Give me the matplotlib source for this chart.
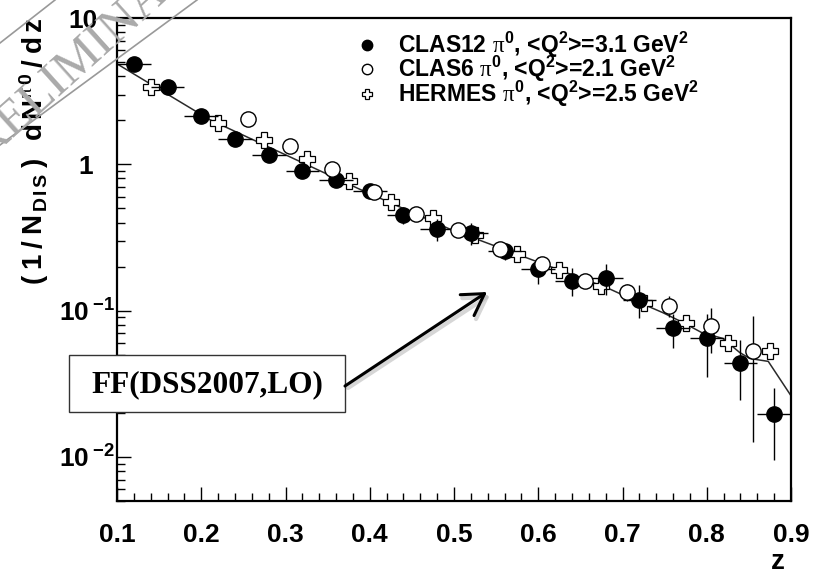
import matplotlib
matplotlib.use('Agg')
import matplotlib.pyplot as plt
from matplotlib.lines import Line2D
from matplotlib.patches import Rectangle, FancyArrowPatch
from matplotlib.ticker import FixedLocator, MultipleLocator, LogLocator, NullFormatter

plt.rcParams['font.family'] = ['Liberation Sans', 'DejaVu Sans']
plt.rcParams['mathtext.fontset'] = 'custom'
plt.rcParams['mathtext.rm'] = 'Liberation Sans:bold'
plt.rcParams['mathtext.bf'] = 'Liberation Sans:bold'
plt.rcParams['mathtext.it'] = 'Liberation Serif'
plt.rcParams['mathtext.default'] = 'rm'

# ---------------- data ----------------
clas12_z = [0.12, 0.16, 0.20, 0.24, 0.28, 0.32, 0.36, 0.40, 0.44, 0.48,
            0.52, 0.56, 0.60, 0.64, 0.68, 0.72, 0.76, 0.80, 0.84, 0.88]
clas12_val = [4.86, 3.40, 2.15, 1.50, 1.15, 0.90, 0.78, 0.655, 0.45, 0.36,
              0.34, 0.256, 0.193, 0.160, 0.168, 0.119, 0.0755, 0.0650, 0.0436, 0.0196]
clas12_err = [0.30, 0.20, 0.15, 0.10, 0.08, 0.07, 0.07, 0.07, 0.06, 0.06,
              0.06, 0.035, 0.04, 0.035, 0.04, 0.03, 0.02, 0.03, 0.019, 0.010]
clas12_zerr = [0.02] * 20

clas6_z = [0.255, 0.305, 0.355, 0.405, 0.455, 0.505, 0.555, 0.605, 0.655,
           0.705, 0.755, 0.805, 0.855]
clas6_val = [2.05, 1.33, 0.925, 0.645, 0.457, 0.356, 0.264, 0.209, 0.160,
             0.135, 0.108, 0.078, 0.0526]
clas6_err = [0.06, 0.04, 0.03, 0.02, 0.015, 0.012, 0.01, 0.01, 0.01,
             0.018, 0.018, 0.027, 0.04]

hermes_z = [0.14, 0.22, 0.275, 0.325, 0.375, 0.425, 0.475, 0.525, 0.575,
            0.625, 0.675, 0.725, 0.775, 0.825, 0.875]
hermes_val = [3.40, 1.93, 1.46, 1.08, 0.766, 0.551, 0.429, 0.329, 0.244,
              0.190, 0.148, 0.112, 0.0828, 0.0605, 0.0526]

curve_z = [0.10, 0.21, 0.388, 0.495, 0.65, 0.682, 0.721, 0.748, 0.772,
           0.794, 0.819, 0.839, 0.851, 0.873, 0.90]
curve_val = [4.86, 2.02, 0.676, 0.361, 0.1675, 0.143, 0.113, 0.0968, 0.0828,
             0.0708, 0.0646, 0.0518, 0.0471, 0.045, 0.0262]

labels = [r'CLAS12 $\mathit{\pi}^{0}$, <Q$^{2}$>=3.1 GeV$^{2}$',
          r'CLAS6 $\mathit{\pi}^{0}$, <Q$^{2}$>=2.1 GeV$^{2}$',
          r'HERMES $\mathit{\pi}^{0}$, <Q$^{2}$>=2.5 GeV$^{2}$']

xtick_vals = [0.1, 0.2, 0.3, 0.4, 0.5, 0.6, 0.7, 0.8, 0.9]
xtick_labels = ['0.1', '0.2', '0.3', '0.4', '0.5', '0.6', '0.7', '0.8', '0.9']
ytick_vals = [0.01, 0.1, 1, 10]
ytick_labels = [r'10$^{\;\mathbf{-2}}$', r'10$^{\;\mathbf{-1}}$', '1', '10']
ytick_pads = [1.5, 1.5, 17, 14]

ylabel_text = (r'$(\;1\;/\;N_{\,D\,I\,S}\;)\;\;\;d\,N^{\,\mathit{\pi}\,0}'
               r'\;/\;d\,z$')
annot_text = 'FF(DSS2007,LO)'
watermark = 'PRELIMINARY'

# ---------------- figure ----------------
W, H = 813, 575
fig = plt.figure(figsize=(W / 100, H / 100), dpi=100)
ax = fig.add_axes([117 / W, 1 - 501 / H, 674 / W, 483 / H])

ax.plot(curve_z, curve_val, color='#2a2a2a', lw=1.1, zorder=2)

ax.plot(hermes_z, hermes_val, 'P', ms=11, mfc='white', mec='black', mew=0.9,
        zorder=3, label=labels[2])

ax.errorbar(clas12_z, clas12_val, yerr=clas12_err, xerr=clas12_zerr, fmt='none',
            ecolor='black', elinewidth=1, capsize=0, zorder=3)
ax.plot(clas12_z, clas12_val, 'o', ms=11, mfc='black', mec='black',
        zorder=4, label=labels[0])

ax.errorbar(clas6_z, clas6_val, yerr=clas6_err, fmt='none',
            ecolor='black', elinewidth=1, capsize=0, zorder=4)
ax.plot(clas6_z, clas6_val, 'o', ms=11, mfc='white', mec='black', mew=1.0,
        zorder=5, label=labels[1])

ax.set_yscale('log')
ax.set_xlim(0.1, 0.9)
ax.set_ylim(0.005, 10)

ax.xaxis.set_major_locator(FixedLocator(xtick_vals))
ax.set_xticklabels(xtick_labels)
ax.xaxis.set_minor_locator(MultipleLocator(0.02))
ax.yaxis.set_major_locator(FixedLocator(ytick_vals))
ax.set_yticklabels(ytick_labels)
ax.yaxis.set_minor_locator(LogLocator(base=10, subs=[2, 3, 4, 5, 6, 7, 8, 9]))
ax.yaxis.set_minor_formatter(NullFormatter())

ax.tick_params(which='both', direction='in', top=False, right=False, width=1.0)
ax.tick_params(which='major', length=10, labelsize=19)
ax.tick_params(which='minor', length=5.5)
ax.tick_params(axis='x', which='major', pad=16)
for t in ax.get_xticklabels() + ax.get_yticklabels():
    t.set_fontweight('bold')
for tk, p in zip(ax.yaxis.get_major_ticks(), ytick_pads):
    tk.set_pad(p)

for s in ax.spines.values():
    s.set_linewidth(1.6)

ax.set_xlabel('z', fontsize=20, fontweight='bold', loc='right')
ax.xaxis.set_label_coords(0.99, -0.1)
ax.set_ylabel(ylabel_text, fontsize=20, loc='top')
ax.yaxis.set_label_coords(-0.098, 1.0)

h, l = ax.get_legend_handles_labels()
order = [l.index(x) for x in labels]
ax.legend([h[i] for i in order], [l[i] for i in order],
          loc='upper left', bbox_to_anchor=(0.354, 0.976), frameon=False,
          prop={'family': 'Liberation Sans', 'weight': 'bold', 'size': 16.5},
          handlelength=1.0, handletextpad=0.85, labelspacing=-0.25,
          markerscale=0.68, borderaxespad=0, borderpad=0)

# annotation box and arrow
fig.add_artist(Rectangle((69 / W, 1 - 412 / H), 276 / W, 57 / H,
                         transform=fig.transFigure, fc='white', ec='#333333',
                         lw=1.0, zorder=10))
fig.text(207 / W, 1 - 385 / H, annot_text, ha='center', va='center',
         family='Liberation Serif', fontweight='bold', fontsize=22.5, zorder=11)
arrow_kw = dict(arrowstyle='->,head_length=0.75,head_width=0.45',
                mutation_scale=20, shrinkA=0, shrinkB=0)
fig.add_artist(FancyArrowPatch(
    (348 / W, 1 - 388 / H), (490 / W, 1 - 295 / H), transform=fig.transFigure,
    color='#bbbbbb', lw=3.0, alpha=0.6, zorder=9, **arrow_kw))
fig.add_artist(FancyArrowPatch(
    (345 / W, 1 - 386 / H), (487 / W, 1 - 292 / H), transform=fig.transFigure,
    color='black', lw=2.2, zorder=10, **arrow_kw))

# watermark
fig.add_artist(Line2D([0, 55 / W], [1 - 43 / H, 1], transform=fig.transFigure,
                      color='#999999', lw=1.2, zorder=20))
fig.add_artist(Line2D([0, 197 / W], [1 - 145 / H, 1], transform=fig.transFigure,
                      color='#999999', lw=1.2, zorder=20))
fig.text(85 / W, 1 - 56 / H, watermark, ha='center', va='center', rotation=42,
         rotation_mode='anchor', family='Liberation Serif', fontsize=36,
         color='#aaaaaa', zorder=20)

fig.savefig('out.png', dpi=100)
